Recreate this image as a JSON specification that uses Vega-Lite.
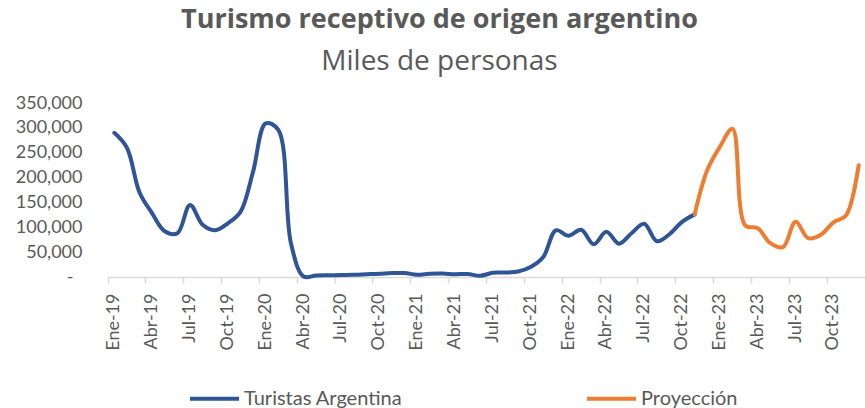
{
  "$schema": "https://vega.github.io/schema/vega-lite/v6.json",
  "autosize": "none",
  "width": 757,
  "height": 174,
  "padding": {"left": 108, "top": 103, "right": 0, "bottom": 131},
  "background": "white",
  "config": {
    "font": "Lato",
    "view": {"stroke": null}
  },
  "title": {
    "text": "Turismo receptivo de origen argentino",
    "subtitle": "Miles de personas",
    "anchor": "middle",
    "frame": "group",
    "dx": -47,
    "offset": 17,
    "font": "Open Sans",
    "fontSize": 27,
    "fontWeight": "bold",
    "color": "#595959",
    "subtitleFont": "Open Sans",
    "subtitleFontSize": 28,
    "subtitleFontWeight": "normal",
    "subtitleColor": "#595959",
    "subtitlePadding": 14
  },
  "data": {
    "values": [
      {"mes": "Ene-19", "serie": "Turistas Argentina", "valor": 290000},
      {"mes": "Feb-19", "serie": "Turistas Argentina", "valor": 260000},
      {"mes": "Mar-19", "serie": "Turistas Argentina", "valor": 170000},
      {"mes": "Abr-19", "serie": "Turistas Argentina", "valor": 128000},
      {"mes": "May-19", "serie": "Turistas Argentina", "valor": 92000},
      {"mes": "Jun-19", "serie": "Turistas Argentina", "valor": 88000},
      {"mes": "Jul-19", "serie": "Turistas Argentina", "valor": 145000},
      {"mes": "Ago-19", "serie": "Turistas Argentina", "valor": 105000},
      {"mes": "Sep-19", "serie": "Turistas Argentina", "valor": 94000},
      {"mes": "Oct-19", "serie": "Turistas Argentina", "valor": 108000},
      {"mes": "Nov-19", "serie": "Turistas Argentina", "valor": 131000},
      {"mes": "Dic-19", "serie": "Turistas Argentina", "valor": 212000},
      {"mes": "Ene-20", "serie": "Turistas Argentina", "valor": 309000},
      {"mes": "Feb-20", "serie": "Turistas Argentina", "valor": 296000},
      {"mes": "Mar-20", "serie": "Turistas Argentina", "valor": 68000},
      {"mes": "Abr-20", "serie": "Turistas Argentina", "valor": 1000},
      {"mes": "May-20", "serie": "Turistas Argentina", "valor": 3000},
      {"mes": "Jun-20", "serie": "Turistas Argentina", "valor": 3500},
      {"mes": "Jul-20", "serie": "Turistas Argentina", "valor": 4000},
      {"mes": "Ago-20", "serie": "Turistas Argentina", "valor": 4500},
      {"mes": "Sep-20", "serie": "Turistas Argentina", "valor": 5500},
      {"mes": "Oct-20", "serie": "Turistas Argentina", "valor": 6500},
      {"mes": "Nov-20", "serie": "Turistas Argentina", "valor": 8000},
      {"mes": "Dic-20", "serie": "Turistas Argentina", "valor": 8000},
      {"mes": "Ene-21", "serie": "Turistas Argentina", "valor": 4500},
      {"mes": "Feb-21", "serie": "Turistas Argentina", "valor": 6500},
      {"mes": "Mar-21", "serie": "Turistas Argentina", "valor": 7000},
      {"mes": "Abr-21", "serie": "Turistas Argentina", "valor": 5500},
      {"mes": "May-21", "serie": "Turistas Argentina", "valor": 6000},
      {"mes": "Jun-21", "serie": "Turistas Argentina", "valor": 2500},
      {"mes": "Jul-21", "serie": "Turistas Argentina", "valor": 8500},
      {"mes": "Ago-21", "serie": "Turistas Argentina", "valor": 9000},
      {"mes": "Sep-21", "serie": "Turistas Argentina", "valor": 11000},
      {"mes": "Oct-21", "serie": "Turistas Argentina", "valor": 20000},
      {"mes": "Nov-21", "serie": "Turistas Argentina", "valor": 40000},
      {"mes": "Dic-21", "serie": "Turistas Argentina", "valor": 94000},
      {"mes": "Ene-22", "serie": "Turistas Argentina", "valor": 83000},
      {"mes": "Feb-22", "serie": "Turistas Argentina", "valor": 95000},
      {"mes": "Mar-22", "serie": "Turistas Argentina", "valor": 66000},
      {"mes": "Abr-22", "serie": "Turistas Argentina", "valor": 91000},
      {"mes": "May-22", "serie": "Turistas Argentina", "valor": 67000},
      {"mes": "Jun-22", "serie": "Turistas Argentina", "valor": 88000},
      {"mes": "Jul-22", "serie": "Turistas Argentina", "valor": 107000},
      {"mes": "Ago-22", "serie": "Turistas Argentina", "valor": 72000},
      {"mes": "Sep-22", "serie": "Turistas Argentina", "valor": 86000},
      {"mes": "Oct-22", "serie": "Turistas Argentina", "valor": 111000},
      {"mes": "Nov-22", "serie": "Turistas Argentina", "valor": 126000},
      {"mes": "Nov-22", "serie": "Proyección", "valor": 126000},
      {"mes": "Dic-22", "serie": "Proyección", "valor": 215000},
      {"mes": "Ene-23", "serie": "Proyección", "valor": 262000},
      {"mes": "Feb-23", "serie": "Proyección", "valor": 298000},
      {"mes": "Mar-23", "serie": "Proyección", "valor": 104000},
      {"mes": "Abr-23", "serie": "Proyección", "valor": 98000},
      {"mes": "May-23", "serie": "Proyección", "valor": 68000},
      {"mes": "Jun-23", "serie": "Proyección", "valor": 60000},
      {"mes": "Jul-23", "serie": "Proyección", "valor": 111000},
      {"mes": "Ago-23", "serie": "Proyección", "valor": 78000},
      {"mes": "Sep-23", "serie": "Proyección", "valor": 85000},
      {"mes": "Oct-23", "serie": "Proyección", "valor": 110000},
      {"mes": "Nov-23", "serie": "Proyección", "valor": 124000},
      {"mes": "Dic-23", "serie": "Proyección", "valor": 225000}
    ]
  },
  "mark": {"type": "line", "interpolate": "catmull-rom", "strokeWidth": 4, "strokeCap": "round", "strokeJoin": "round", "clip": false},
  "encoding": {
    "x": {
      "field": "mes",
      "type": "ordinal",
      "sort": null,
      "scale": {"type": "band", "paddingInner": 0, "paddingOuter": 0},
      "axis": {
        "title": null,
        "values": ["Ene-19","Abr-19","Jul-19","Oct-19","Ene-20","Abr-20","Jul-20","Oct-20","Ene-21","Abr-21","Jul-21","Oct-21","Ene-22","Abr-22","Jul-22","Oct-22","Ene-23","Abr-23","Jul-23","Oct-23"],
        "labelAngle": -90,
        "labelAlign": "right",
        "labelBaseline": "middle",
        "labelFont": "Lato",
        "labelFontSize": 18,
        "labelColor": "#595959",
        "labelPadding": 10,
        "bandPosition": 0,
        "tickExtra": false,
        "tickSize": 6,
        "tickColor": "#d9d9d9",
        "tickWidth": 1.5,
        "domainColor": "#d9d9d9",
        "domainWidth": 1.5,
        "grid": false
      }
    },
    "y": {
      "field": "valor",
      "type": "quantitative",
      "scale": {"domain": [0, 350000], "nice": false},
      "axis": {
        "title": null,
        "values": [0, 50000, 100000, 150000, 200000, 250000, 300000, 350000],
        "labelExpr": "datum.value == 0 ? '-' : format(datum.value, ',')",
        "labelFont": "Lato",
        "labelFontSize": 18,
        "labelColor": "#595959",
        "labelPadding": {"condition": {"test": "datum.value == 0", "value": 35}, "value": 26},
        "domain": false,
        "ticks": false,
        "grid": false
      }
    },
    "color": {
      "field": "serie",
      "type": "nominal",
      "scale": {"domain": ["Turistas Argentina", "Proyección"], "range": ["#2F5597", "#ED7D31"]},
      "legend": {
        "title": null,
        "orient": "none",
        "legendX": 80,
        "legendY": 269,
        "direction": "horizontal",
        "columns": 2,
        "columnPadding": 176,
        "symbolType": "stroke",
        "symbolSize": 2401,
        "symbolStrokeWidth": 4,
        "labelFont": "Lato",
        "labelFontSize": 20,
        "labelColor": "#595959",
        "labelOffset": 3
      }
    }
  }
}
